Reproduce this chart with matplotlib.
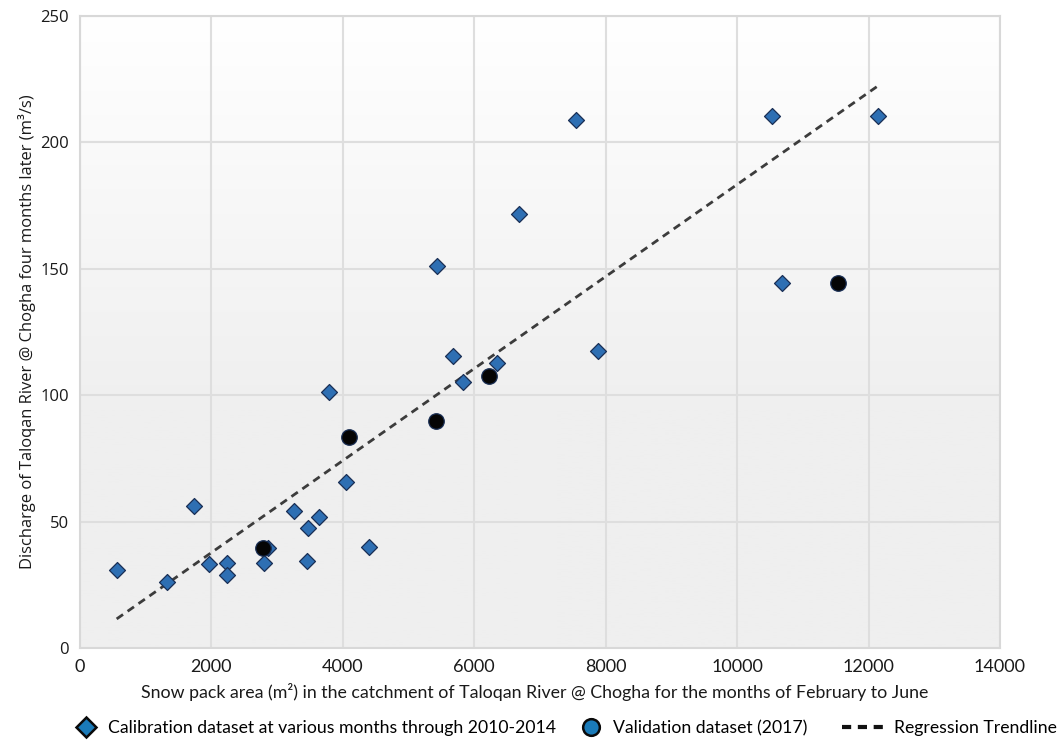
#!/usr/bin/env python3
"""Snow pack area vs. discharge scatter with regression trendline."""

import numpy as np
import matplotlib
matplotlib.use("Agg")
import matplotlib.pyplot as plt
from matplotlib.colors import LinearSegmentedColormap
from matplotlib.lines import Line2D

# calibration dataset (2010-2014)
calib_x = [558, 1319, 1740, 1968, 2237, 2237, 2806, 2866, 3252, 3465, 3643,
           3455, 4044, 4394, 3795, 5429, 5672, 5825, 6342, 6682, 7545, 7879,
           10528, 10680, 12151]
calib_y = [30.8, 26.0, 56.1, 33.1, 33.7, 28.7, 33.7, 39.4, 54.3, 47.3, 51.7,
           34.4, 65.5, 40.0, 101.3, 151.0, 115.4, 105.3, 112.8, 171.8, 209.0,
           117.5, 210.4, 144.5, 210.4]

# validation dataset (2017)
valid_x = [2780, 4099, 5414, 6225, 11542]
valid_y = [39.4, 83.3, 89.8, 107.5, 144.5]

# regression trendline end points
trend_x = [558, 12151]
trend_y = [11.5, 222.5]

xticks = [0, 2000, 4000, 6000, 8000, 10000, 12000, 14000]
yticks = [0, 50, 100, 150, 200, 250]

XLABEL = "Snow pack area (m²) in the catchment of Taloqan River @ Chogha for the months of February to June"
YLABEL = "Discharge of Taloqan River @ Chogha four months later (m³/s)"

W, H = 1064, 741
plt.rcParams.update({
    "font.family": ["Lato", "DejaVu Sans"],
    "font.size": 12,
})

fig = plt.figure(figsize=(W / 100, H / 100), dpi=100)
ax = fig.add_axes([80 / W, 1 - 648 / H, 920 / W, 632 / H])

# light vertical gradient, white in the upper half, grey toward the bottom
grad = np.clip(np.linspace(1.0, -0.6, 256), 0, 1).reshape(-1, 1)
bg_cmap = LinearSegmentedColormap.from_list("bg", ["#efefef", "#ffffff"])
ax.imshow(grad, extent=[0, 14000, 0, 250], aspect="auto", origin="upper",
          cmap=bg_cmap, vmin=0, vmax=1, zorder=0)

ax.set_xlim(0, 14000)
ax.set_ylim(0, 250)
ax.set_xticks(xticks)
ax.set_yticks(yticks)
ax.grid(True, color="#dedede", linewidth=1.5, zorder=1)
ax.set_axisbelow(True)
for sp in ax.spines.values():
    sp.set_color("#d8d8d8")
    sp.set_linewidth(1.5)
ax.tick_params(length=0)
ax.tick_params(axis="x", labelsize=13, colors="#1a1a1a", pad=8)
ax.tick_params(axis="y", labelsize=12, colors="#1a1a1a", pad=8)
for lbl in ax.get_yticklabels():
    lbl.set_family(["Open Sans", "DejaVu Sans"])

ax.plot(trend_x, trend_y, linestyle=(0, (2.8, 2.0)), color="#3c3c3c",
        linewidth=2.0, zorder=3)
ax.scatter(calib_x, calib_y, marker="D", s=66, color="#2e6fb3",
           edgecolors="#1a2f55", linewidths=0.9, zorder=4)
ax.scatter(valid_x, valid_y, marker="o", s=125, color="#050505",
           edgecolors="#1a2f55", linewidths=0.9, zorder=5)

ax.set_xlabel(XLABEL, fontsize=12.8, color="#1a1a1a")
ax.xaxis.set_label_coords(0.494, (648 - 692) / 632)
ax.xaxis.label.set_va("center")
ax.set_ylabel(YLABEL, fontsize=11.9, color="#1a1a1a",
              family=["Open Sans", "DejaVu Sans"])
ax.yaxis.set_label_coords((27 - 80) / 920, 0.5)
ax.yaxis.label.set_va("center")

# legend: three entries placed along one row below the x label
legend_y = 1 - 728 / H
entries = [
    (Line2D([], [], marker="D", linestyle="none", markersize=10,
            markerfacecolor="#1a7ab8", markeredgecolor="#0a0a0a",
            markeredgewidth=1.8),
     "Calibration dataset at various months through 2010-2014", 75, 1.2),
    (Line2D([], [], marker="o", linestyle="none", markersize=12,
            markerfacecolor="#1a7ab8", markeredgecolor="#0a0a0a",
            markeredgewidth=1.8),
     "Validation dataset (2017)", 580, 1.2),
    (Line2D([], [], linestyle=(0, (2.2, 1.6)), color="#111111",
            linewidth=3.0),
     "Regression Trendline", 842, 2.3),
]
for handle, label, x_px, hlen in entries:
    fig.legend([handle], [label], loc="center left",
               bbox_to_anchor=(x_px / W, legend_y), frameon=False,
               fontsize=12.7, handlelength=hlen, handletextpad=0.65,
               borderpad=0, borderaxespad=0)

fig.savefig("out.png", dpi=100)
